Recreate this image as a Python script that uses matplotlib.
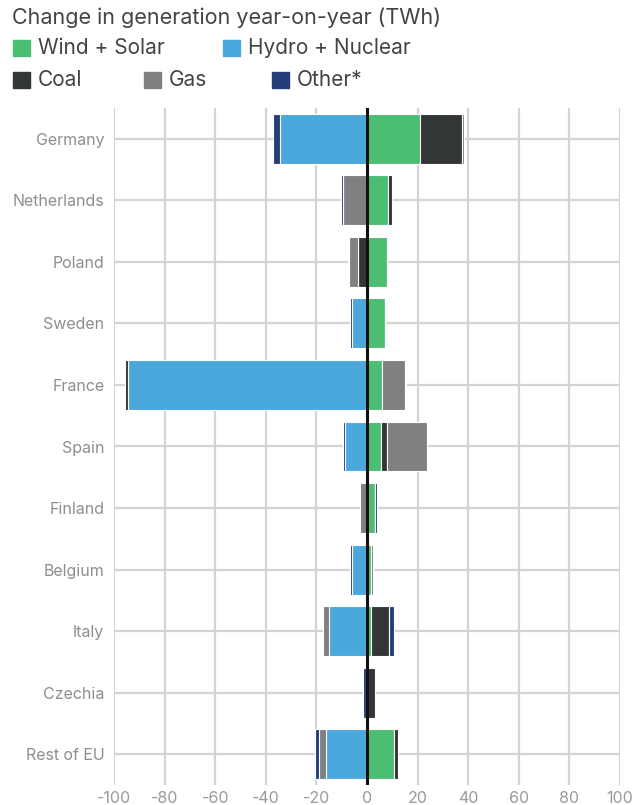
import matplotlib
matplotlib.use("Agg")
import matplotlib.pyplot as plt
from matplotlib.patches import Rectangle
import numpy as np

plt.rcParams['font.family'] = ['Inter', 'DejaVu Sans']
plt.rcParams['axes.unicode_minus'] = False

# data (TWh change year-on-year)
countries = ["Germany", "Netherlands", "Poland", "Sweden", "France", "Spain",
             "Finland", "Belgium", "Italy", "Czechia", "Rest of EU"]
wind_solar = [20.8, 8.2, 7.8, 7.1, 5.9, 5.5, 3.3, 1.6, 1.6, 0.0, 10.6]
hydro_nuclear = [-34.5, 0.0, 0.0, -6.0, -94.5, -8.6, 0.0, -6.0, -14.9, 0.0, -16.1]
coal = [16.6, 1.5, -3.7, 0.0, -1.0, 2.5, 0.0, 0.0, 7.0, 3.2, 1.8]
gas = [1.0, -9.3, -3.3, 0.0, 9.2, 15.8, -2.7, 0.6, -2.5, -0.3, -3.0]
other = [-2.8, -0.8, -0.6, -0.8, 0.4, -1.0, 0.6, -0.8, 2.0, -1.3, -1.4]

series = [("Wind + Solar", wind_solar, "#4cbe74"),
          ("Hydro + Nuclear", hydro_nuclear, "#4aa8dd"),
          ("Coal", coal, "#333637"),
          ("Gas", gas, "#808082"),
          ("Other*", other, "#243f78")]
xticks = [-100, -80, -60, -40, -20, 0, 20, 40, 60, 80, 100]

fig = plt.figure(figsize=(6.35, 8.05), dpi=100)
ax = fig.add_axes([114/635, 20/805, 506/635, 677/805])

y = np.arange(len(countries))
pos = np.zeros(len(countries))
neg = np.zeros(len(countries))
for name, vals, col in series:
    v = np.array(vals)
    left = np.where(v >= 0, pos, neg)
    ax.barh(y, v, left=left, height=0.81, color=col, edgecolor="white",
            linewidth=0.8, zorder=3)
    pos += np.where(v > 0, v, 0)
    neg += np.where(v < 0, v, 0)

ax.axvline(0, color="#111111", lw=2.2, zorder=5)
ax.set_xlim(-100, 100)
ax.set_ylim(len(countries) - 0.5, -0.5)
ax.set_xticks(xticks)
ax.set_xticklabels([str(t) for t in xticks])
ax.set_yticks(y)
ax.set_yticklabels(countries)
ax.grid(True, color="#d6d3d3", lw=1.6, zorder=0)
ax.tick_params(length=0, colors="#9a9a9a", labelsize=11.5)
ax.tick_params(axis="x", pad=4)
ax.tick_params(axis="y", pad=7, labelcolor="#8e8e8e", labelsize=11.5)
for s in ax.spines.values():
    s.set_visible(False)

# title and legend
fig.text(12/635, 1 - 18/805, "Change in generation year-on-year (TWh)",
         fontsize=15.5, color="#444444", va="center", ha="left")
legend = [("Wind + Solar", "#4cbe74", 13, 48), ("Hydro + Nuclear", "#4aa8dd", 223, 48),
          ("Coal", "#333637", 13, 80), ("Gas", "#808082", 144, 80),
          ("Other*", "#243f78", 272, 80)]
for name, col, px, py in legend:
    fig.patches.append(Rectangle((px/635, 1 - (py + 8)/805), 17/635, 16/805,
                                 transform=fig.transFigure, color=col))
    fig.text((px + 25)/635, 1 - py/805, name, fontsize=15, color="#444444",
             va="center", ha="left")

fig.savefig("out.png", dpi=100)
